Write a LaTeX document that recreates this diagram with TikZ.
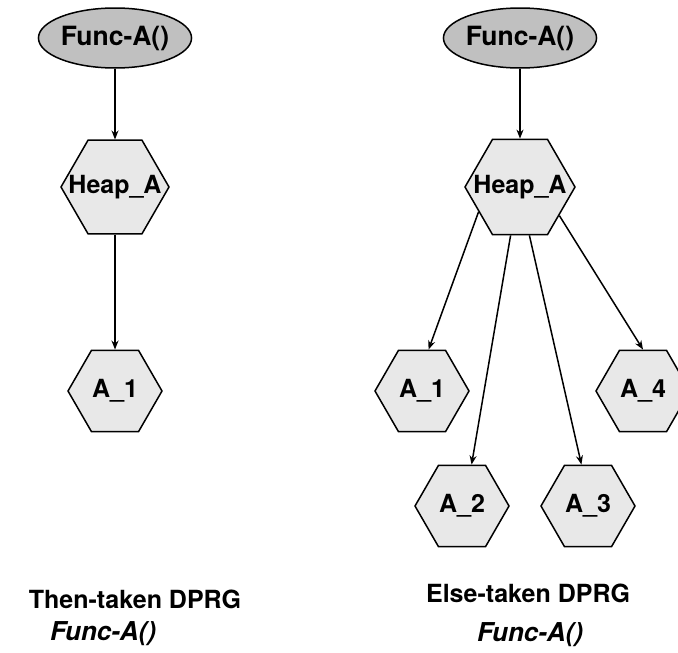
\documentclass[tikz,border=0pt]{standalone}
\usepackage{fontspec}
\setmainfont{TeX Gyre Heros}
\usetikzlibrary{shapes.geometric,arrows.meta}
\definecolor{funcgray}{RGB}{192,192,192}
\definecolor{hexgray}{RGB}{232,232,232}
\begin{document}
\begin{tikzpicture}[x=1pt,y=-1pt,
  every node/.style={font=\fontsize{25}{29}\selectfont\bfseries},
  func/.style={ellipse,draw,line width=1.5pt,fill=funcgray,minimum width=136,minimum height=60,inner sep=0pt,
    font=\fontsize{26.5}{30}\selectfont\bfseries},
  hex/.style={regular polygon,regular polygon sides=6,draw,line width=1.5pt,fill=hexgray,inner sep=0pt,minimum size=#1},
  hex/.default=94,
  dep/.style={-{Stealth[length=9pt,width=7pt]},line width=1.5pt},
  caption/.style={font=\fontsize{25}{29}\selectfont\bfseries},
  fname/.style={font=\fontsize{26}{30}\selectfont\bfseries\itshape}]
  \useasboundingbox (0,0) rectangle (678,653);
  \node[func] (funcL) at (115,38) {Func-A()};
  \node[hex=108,label=center:Heap\_A] (heapL) at (115,187) {};
  \node[hex,label=center:A\_1] (a1L) at (115,391) {};
  \draw[dep] (funcL) -- (heapL);
  \draw[dep] (heapL) -- (a1L);
  \node[func] (funcR) at (520,38) {Func-A()};
  \node[hex=110,label=center:Heap\_A] (heapR) at (520,187) {};
  \node[hex,label=center:A\_1] (a1R) at (422,391) {};
  \node[hex,label=center:A\_2] (a2R) at (462,506) {};
  \node[hex,label=center:A\_3] (a3R) at (588,506) {};
  \node[hex,label=center:A\_4] (a4R) at (643,391) {};
  \draw[dep] (funcR) -- (heapR);
  \draw[dep] (heapR.211) -- (a1R.81);
  \draw[dep] (heapR.259) -- (a2R.77);
  \draw[dep] (heapR.281) -- (a3R.99);
  \draw[dep] (heapR.324) -- (a4R.north);
  \node[caption] (thenL) at (135,599) {Then-taken DPRG};
  \node[fname] (fnL) at (103,634) {Func-A()};
  \node[caption] (elseR) at (528,593) {Else-taken DPRG};
  \node[fname] (fnR) at (530,635) {Func-A()};
\end{tikzpicture}
\end{document}
